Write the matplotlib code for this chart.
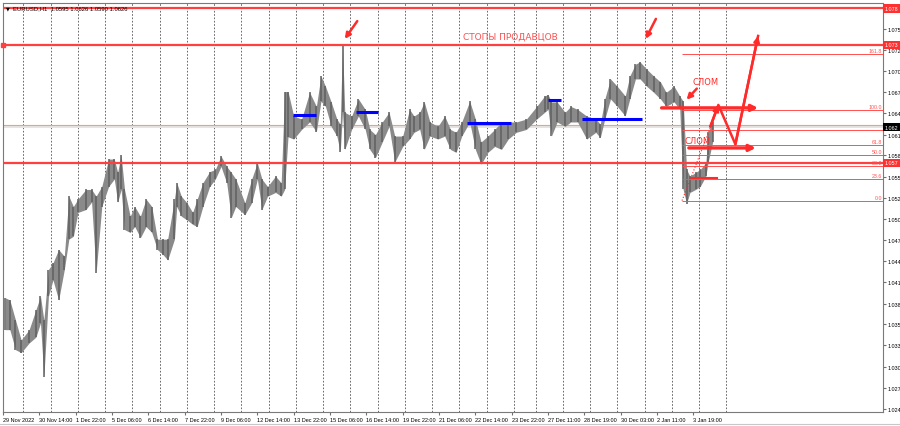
import numpy as np
import matplotlib.pyplot as plt
from matplotlib.lines import Line2D

# EURUSD H1, bar index counted from 29 Nov 2022 06:00, high/low
bar_idx = [2, 6, 11, 16, 23, 29, 33, 36, 40, 44, 49, 54, 58, 62, 66, 73, 78, 82, 87, 93,
           98, 101, 104, 107, 112, 116, 121, 126,
           131, 136, 141, 145, 151, 153, 157, 162, 167, 171, 176, 182, 187, 192, 197, 201,
           205, 213, 219, 224, 228, 233, 240, 245, 248,
           251, 256, 263, 270, 276, 280, 284, 289, 294, 297, 299, 301, 307, 313, 319, 323,
           328, 334, 340, 345, 352, 358, 362, 367,
           371, 376, 383, 389, 394, 399, 404, 411, 416, 421, 427, 433, 439, 445, 452, 461,
           470, 477, 480, 483, 488, 495,
           500, 506, 514, 522, 526, 530, 535, 541, 548, 552, 557, 561, 567, 573, 579, 584,
           591, 596, 599, 602, 605, 610, 614, 619, 621, 625]
bar_high = [1.0390, 1.0387, 1.0360, 1.0333, 1.0347, 1.0374, 1.0392, 1.0360, 1.0428, 1.0437,
            1.0455, 1.0446, 1.0527, 1.0513, 1.0523, 1.0536, 1.0536, 1.0527, 1.0540, 1.0577,
            1.0577, 1.0559, 1.0583, 1.0536, 1.0500, 1.0513, 1.0500, 1.0523,
            1.0513, 1.0469, 1.0469, 1.0469, 1.0523, 1.0545, 1.0527, 1.0518, 1.0505, 1.0523,
            1.0545, 1.0560, 1.0563, 1.0581, 1.0567, 1.0559, 1.0550, 1.0518, 1.0550, 1.0572,
            1.0550, 1.0540, 1.0554, 1.0545, 1.0668,
            1.0668, 1.0635, 1.0631, 1.0667, 1.0648, 1.0689, 1.0675, 1.0654, 1.0631, 1.0624,
            1.0732, 1.0640, 1.0635, 1.0658, 1.0644, 1.0617, 1.0610, 1.0627, 1.0640, 1.0608,
            1.0608, 1.0644, 1.0635, 1.0640,
            1.0654, 1.0627, 1.0621, 1.0635, 1.0617, 1.0613, 1.0627, 1.0655, 1.0631, 1.0600,
            1.0608, 1.0617, 1.0627, 1.0627, 1.0627, 1.0631, 1.0648, 1.0662, 1.0664, 1.0654,
            1.0654, 1.0640,
            1.0648, 1.0644, 1.0635, 1.0631, 1.0624, 1.0658, 1.0685, 1.0675, 1.0662, 1.0689,
            1.0705, 1.0708, 1.0698, 1.0689, 1.0681, 1.0667, 1.0675, 1.0662, 1.0655, 1.0563,
            1.0554, 1.0559, 1.0563, 1.0572, 1.0613, 1.0627]
bar_low = [1.0347, 1.0347, 1.0320, 1.0316, 1.0329, 1.0337, 1.0356, 1.0283, 1.0392, 1.0414,
           1.0387, 1.0428, 1.0469, 1.0473, 1.0505, 1.0509, 1.0519, 1.0424, 1.0513, 1.0540,
           1.0550, 1.0519, 1.0536, 1.0482, 1.0478, 1.0486, 1.0471, 1.0486,
           1.0478, 1.0455, 1.0448, 1.0441, 1.0469, 1.0513, 1.0500, 1.0495, 1.0489, 1.0486,
           1.0513, 1.0540, 1.0550, 1.0567, 1.0545, 1.0498, 1.0513, 1.0502, 1.0518, 1.0550,
           1.0509, 1.0527, 1.0532, 1.0527, 1.0536,
           1.0607, 1.0604, 1.0617, 1.0627, 1.0614, 1.0655, 1.0648, 1.0621, 1.0608, 1.0587,
           1.0640, 1.0590, 1.0617, 1.0635, 1.0617, 1.0590, 1.0579, 1.0600, 1.0621, 1.0573,
           1.0594, 1.0604, 1.0613, 1.0617,
           1.0590, 1.0608, 1.0604, 1.0608, 1.0590, 1.0586, 1.0608, 1.0627, 1.0590, 1.0570,
           1.0586, 1.0594, 1.0590, 1.0604, 1.0613, 1.0617, 1.0631, 1.0640, 1.0644, 1.0608,
           1.0627, 1.0621,
           1.0627, 1.0627, 1.0604, 1.0613, 1.0606, 1.0631, 1.0658, 1.0648, 1.0635, 1.0658,
           1.0685, 1.0685, 1.0675, 1.0667, 1.0658, 1.0648, 1.0654, 1.0644, 1.0536, 1.0517,
           1.0532, 1.0536, 1.0540, 1.0554, 1.0573, 1.0600]

# x axis: a label every 32 bars, dotted grid at each day start
x_tick_bars = list(range(0, 609, 32))
x_tick_labels = ['29 Nov 2022', '30 Nov 14:00', '1 Dec 22:00', '5 Dec 06:00', '6 Dec 14:00',
                 '7 Dec 22:00', '9 Dec 06:00', '12 Dec 14:00', '13 Dec 22:00', '15 Dec 06:00',
                 '16 Dec 14:00', '19 Dec 22:00', '21 Dec 06:00', '22 Dec 14:00', '23 Dec 22:00',
                 '27 Dec 11:00', '28 Dec 19:00', '30 Dec 03:00', '2 Jan 11:00', '3 Jan 19:00']
day_starts = [18, 42, 66, 90, 114, 138, 162, 186, 210, 234, 258, 282, 306, 330, 354, 378,
              402, 426, 450, 469, 493, 517, 541, 565, 589, 613, 637]

# the top tick (1.078) sits under the red price box, so it carries no label of its own
y_ticks = [1.0781, 1.0752, 1.0724, 1.0696, 1.0667, 1.0639, 1.0610, 1.0582, 1.0553, 1.0525,
           1.0496, 1.0468, 1.0439, 1.0411, 1.0382, 1.0354, 1.0326, 1.0297, 1.0269, 1.0240]
y_tick_labels = ['', '1.075', '1.072', '1.070', '1.067', '1.064', '1.061', '1.058',
                 '1.055', '1.052', '1.050', '1.047', '1.044', '1.041', '1.038', '1.035',
                 '1.033', '1.030', '1.027', '1.024']

# levels drawn on the chart
red_levels = [1.0780, 1.0731, 1.0572]
red_labels = ['1.078', '1.073', '1.057']
bid_price = 1.0623

fib_start = 598
fib_low, fib_high = 1.0521, 1.0643
fib_ratios = [0.0, 23.6, 38.2, 50.0, 61.8, 100.0, 161.8]
extra_level = 1.0616

blue_levels = [1.0636, 1.0640, 1.0626, 1.0657, 1.0631]
blue_start = [255, 311, 409, 480, 510]
blue_end = [276, 330, 447, 491, 563]

FONT = ['Liberation Sans', 'DejaVu Sans']
RED = '#ff2a2a'
fig = plt.figure(figsize=(9, 4.27), dpi=100)
ax = fig.add_axes([3 / 900, 1 - 413 / 427, 880 / 900, 409 / 427])
ax.set_xlim(0, 775)
ax.set_ylim(1.02360, 1.07874)

for d in day_starts:
    ax.axvline(d, color='#505050', lw=0.6, ls=(0, (2, 2)), zorder=0)

ax.axhspan(bid_price - 0.0004, bid_price, color='#e4e4e4', lw=0, zorder=0.5)
ax.axhline(bid_price, color='#f4a070', lw=0.8, zorder=1)

# price bars
ax.fill_between(bar_idx, bar_low, bar_high, color='#8a8a8a', lw=0, zorder=2)
ax.vlines(bar_idx, bar_low, bar_high, color='#606060', lw=1.1, zorder=3)

for lvl in red_levels:
    ax.axhline(lvl, color='#ff4040', lw=1.6, zorder=4)
ax.plot(0, red_levels[1], 's', color='#ff4040', ms=3, clip_on=False, zorder=5)

# fibonacci grid
fib_prices = [fib_low + r / 100 * (fib_high - fib_low) for r in fib_ratios]
ax.hlines(fib_prices + [extra_level], fib_start, 775, color='#ff5050', lw=0.7, zorder=4)
for r, p in zip(fib_ratios, fib_prices):
    ax.text(774, p + 0.00012, f'{r:.1f}', ha='right', va='bottom', fontsize=3.8,
            color='#ff5050', family=FONT, zorder=6)
ax.plot([fib_start, 630], [fib_low, 1.0647], color=RED, lw=0.8, ls=':', zorder=5)

for lvl, x0, x1 in zip(blue_levels, blue_start, blue_end):
    ax.hlines(lvl, x0, x1, color='#0000ff', lw=2.2, zorder=6)

arrow = dict(arrowstyle='-|>', color=RED, lw=1.8, mutation_scale=8, shrinkA=0, shrinkB=0)
ax.annotate('', xy=(301, 1.0739), xytext=(312, 1.0763), arrowprops=arrow, zorder=7)
ax.annotate('', xy=(566, 1.0739), xytext=(575, 1.0766), arrowprops=arrow, zorder=7)
ax.annotate('', xy=(602, 1.0657), xytext=(611, 1.0672), arrowprops=arrow, zorder=7)
ax.text(619, 1.0682, 'СЛОМ', color=RED, fontsize=6, ha='center', va='center', zorder=7)
ax.text(612, 1.0602, 'СЛОМ', color=RED, fontsize=6, ha='center', va='center', zorder=7)

harrow = dict(arrowstyle='-|>', color=RED, lw=2.4, mutation_scale=9, shrinkA=0, shrinkB=0)
ax.annotate('', xy=(665, 1.0646), xytext=(580, 1.0646), arrowprops=harrow, zorder=7)
ax.annotate('', xy=(663, 1.0592), xytext=(604, 1.0592), arrowprops=harrow, zorder=7)
ax.plot([607, 629], [1.0552, 1.0552], color=RED, lw=1.5, zorder=7)

zig_x = [623, 630, 645, 665]
zig_y = [1.0621, 1.0650, 1.0597, 1.0743]
ax.plot(zig_x, zig_y, color=RED, lw=1.8, zorder=7)
ax.annotate('', xy=(zig_x[1], zig_y[1]), xytext=(zig_x[0], zig_y[0]), arrowprops=arrow, zorder=7)
ax.annotate('', xy=(zig_x[3], zig_y[3]), xytext=(zig_x[2], zig_y[2]), arrowprops=arrow, zorder=7)

ax.text(447, 1.0743, 'СТОПЫ ПРОДАВЦОВ', color='#ff4d4d', fontsize=6.5, ha='center',
        va='center', zorder=7)

# axes styling
ax.yaxis.tick_right()
ax.set_yticks(y_ticks)
ax.set_yticklabels(y_tick_labels, family=FONT)
ax.set_xticks(x_tick_bars)
ax.set_xticklabels(x_tick_labels, ha='left', family=FONT)
ax.tick_params(axis='y', labelsize=3.9, length=2, pad=1.0, color='#707070')
ax.tick_params(axis='x', labelsize=4.0, length=2, pad=1.5, color='#707070')
for s in ax.spines.values():
    s.set_color('#7a7a7a')
    s.set_linewidth(0.8)

tr = ax.get_yaxis_transform()
for lvl, lbl in zip(red_levels, red_labels):
    ax.text(1.002, lvl, lbl, transform=tr, fontsize=3.9, color='white', va='center',
            ha='left', family=FONT, zorder=8, clip_on=False,
            bbox=dict(boxstyle='square,pad=0.3', fc='#ff3030', ec='none'))
ax.text(1.002, bid_price - 0.0003, '1.062', transform=tr, fontsize=3.9, color='white',
        va='center', ha='left', family=FONT, zorder=8, clip_on=False,
        bbox=dict(boxstyle='square,pad=0.3', fc='black', ec='none'))

fig.text(6 / 900, 1 - 9 / 427, '▼', fontsize=3.5, va='center')
fig.text(13 / 900, 1 - 9 / 427, 'EURUSD,H1  1.0595 1.0626 1.0590 1.0626', fontsize=4.2,
         va='center', family=FONT)
fig.add_artist(Line2D([0, 1], [2 / 427, 2 / 427], color='#c8c8c8', lw=0.8))

fig.savefig('out.png', dpi=100)
